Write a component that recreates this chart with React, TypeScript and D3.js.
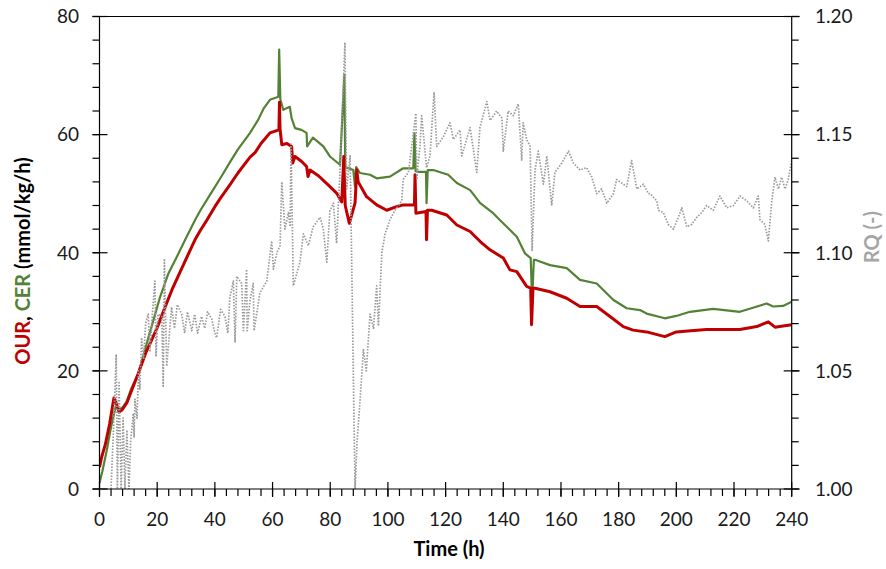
import React from "react";
import * as d3 from "d3";

const xTicks = [0, 20, 40, 60, 80, 100, 120, 140, 160, 180, 200, 220, 240];
const yLeftTicks = [0, 20, 40, 60, 80];
const yRightTicks = [1.0, 1.05, 1.1, 1.15, 1.2];

const ourT = [0, 0.8, 2, 3.5, 5.0, 5.5, 6.8, 8, 9.5, 11, 13.4, 16, 19.9, 22.5, 25.1, 28, 31.4, 33.1, 35, 37.2, 40, 42, 45.2, 48, 50, 52.2, 54, 56, 59.1, 62.2, 62.4, 62.6, 63.2, 65, 66.6, 67, 67.8, 70, 71.8, 72.3, 73, 76, 79.9, 82.2, 84, 84.7, 85.2, 86.6, 87.5, 88.6, 89.2, 89.7, 92.6, 96.1, 99.6, 103, 105.3, 109.2, 109.4, 109.7, 113.2, 113.4, 113.7, 115.2, 120.4, 123.9, 128.5, 132, 135.4, 140, 142.3, 144.7, 148.1, 149.5, 149.8, 150.3, 151, 156.2, 162, 166.6, 172.4, 177, 181.6, 185, 189.7, 196, 200, 205, 210.5, 216, 222, 227.9, 231.9, 234.2, 237, 240];
const ourV = [3.7, 5.5, 7.5, 11, 15.4, 15, 13.0, 13.5, 14.6, 16.5, 19.5, 23, 27.2, 30.5, 33.7, 36.8, 40.4, 42.2, 43.8, 45.5, 47.8, 49.3, 51.5, 53.5, 54.8, 56.2, 57, 58.5, 60.3, 60.8, 65.5, 61, 58.3, 58.5, 58, 55.2, 56.3, 55.5, 54.6, 52.9, 54, 53, 51.2, 50.1, 48.6, 56.3, 48, 45, 46.5, 48.4, 54, 52, 49.5, 48.1, 47.2, 47.8, 48.1, 48.1, 53.2, 46.7, 47, 42.2, 47.2, 47.2, 46.4, 44.7, 43.6, 41.9, 40.5, 39.1, 37.1, 36.8, 34.3, 34, 27.8, 34, 34, 33.4, 32.3, 30.9, 30.9, 29.2, 27.5, 26.9, 26.6, 25.8, 26.6, 26.8, 27, 27, 27, 27.5, 28.3, 27.4, 27.6, 27.8];

const cerT = [0, 1, 2.5, 4, 5.6, 6.5, 8, 9.4, 11, 13.5, 16, 18.7, 21, 23.9, 27, 30, 33.1, 35, 38.3, 42, 45.2, 48, 52.2, 55, 57, 59.1, 62, 62.3, 62.7, 63.7, 66, 66.6, 67.8, 70, 71.8, 72, 74, 77.6, 79.9, 83.4, 84.9, 85.2, 88, 88.6, 89, 90.3, 93.8, 96.1, 100.7, 105.3, 108.8, 109.2, 109.6, 110.5, 113.2, 113.4, 113.8, 115.7, 120.9, 123.9, 128.5, 132, 136.5, 138.9, 141.2, 144.7, 147.5, 149.5, 150, 150.6, 151, 156.2, 162, 166.6, 172.4, 178.2, 182.8, 187.4, 189.7, 196, 200, 204.7, 212.8, 222, 226, 231.3, 233.6, 237, 240];
const cerV = [1, 3, 6.5, 10.5, 13.9, 13.4, 13.8, 14.8, 17, 19.6, 24, 28.6, 32.5, 36.5, 39.5, 42.5, 45.5, 47.2, 49.8, 52.7, 55.3, 57.5, 60.3, 62.5, 64.5, 65.9, 66.4, 74.4, 66, 64.2, 64.7, 62.8, 61.1, 60.8, 60.3, 58, 59.5, 58, 56.3, 54.9, 70.1, 54.5, 54, 51.2, 54.5, 53.5, 53.2, 52.6, 52.9, 54.3, 54.3, 60.2, 53.8, 53.7, 53.7, 48.4, 54, 54, 53.2, 51.8, 50.6, 48.4, 46.7, 45.5, 44.4, 42.7, 39.9, 39.1, 32, 38.8, 38.8, 37.9, 37.4, 35.4, 34.8, 32, 30.6, 30.3, 29.7, 28.9, 29.3, 30, 30.5, 30, 30.6, 31.4, 30.9, 31, 31.7];

const rqT = [4.0, 5.0, 5.8, 6.2, 6.8, 7.5, 8.2, 8.8, 9.5, 10.2, 10.8, 11.7, 12.0, 12.3, 13.0, 13.5, 14.0, 14.6, 15.3, 16.0, 16.9, 17.5, 18.2, 19.2, 19.6, 20.3, 21.6, 22.1, 22.5, 23.3, 25.0, 26.0, 27.0, 28.5, 29.5, 30.5, 32.0, 33.0, 34.0, 35.4, 36.5, 37.5, 38.9, 40.0, 40.6, 42.0, 43.5, 44.5, 45.2, 46.4, 47.0, 47.6, 49.3, 49.9, 51.0, 51.2, 52.2, 53.3, 53.6, 55.6, 58.0, 59.7, 60.3, 61.5, 62.6, 63.2, 64.3, 65.5, 66.1, 66.4, 67.2, 69.5, 70.7, 72.4, 74.1, 76.5, 77.6, 78.8, 79.9, 81.1, 82.2, 83.4, 85.1, 85.7, 86.9, 88.6, 89.3, 90.2, 91.5, 92.5, 93.8, 95.0, 96.1, 96.7, 97.9, 99.0, 100.7, 102.5, 104.8, 105.3, 107.1, 109.7, 110.0, 111.1, 111.7, 113.4, 114.6, 116.0, 116.9, 119.2, 121.5, 122.7, 125.0, 125.6, 128.5, 130.8, 131.9, 134.3, 135.4, 137.7, 139.5, 140.0, 141.7, 143.5, 145.2, 146.4, 146.9, 148.1, 149.3, 150.0, 151.0, 152.1, 153.9, 155.1, 156.8, 157.9, 160.3, 162.6, 164.3, 166.6, 168.9, 170.7, 172.4, 174.1, 175.9, 178.2, 179.3, 182.8, 184.5, 186.3, 188.6, 190.3, 190.9, 193.2, 193.8, 195.5, 197.2, 199.0, 200.7, 201.9, 203.6, 205.3, 207.1, 208.8, 210.5, 212.8, 215.1, 217.5, 219.8, 222.1, 224.4, 226.7, 228.4, 229.0, 230.7, 231.9, 233.1, 234.2, 235.4, 236.5, 237.7, 238.8, 240.0];
const rqV = [1.000, 1.030, 1.057, 1.000, 1.045, 1.000, 1.030, 1.000, 1.025, 1.000, 1.020, 1.032, 1.022, 1.038, 1.030, 1.050, 1.042, 1.064, 1.055, 1.070, 1.074, 1.058, 1.072, 1.088, 1.056, 1.074, 1.073, 1.043, 1.097, 1.052, 1.077, 1.068, 1.078, 1.074, 1.066, 1.075, 1.067, 1.074, 1.066, 1.073, 1.068, 1.075, 1.072, 1.066, 1.064, 1.076, 1.073, 1.066, 1.081, 1.088, 1.062, 1.090, 1.087, 1.067, 1.093, 1.067, 1.080, 1.087, 1.067, 1.083, 1.088, 1.105, 1.093, 1.100, 1.103, 1.130, 1.110, 1.117, 1.111, 1.146, 1.086, 1.096, 1.108, 1.103, 1.111, 1.115, 1.110, 1.096, 1.118, 1.121, 1.104, 1.135, 1.189, 1.127, 1.141, 1.000, 1.020, 1.035, 1.059, 1.050, 1.074, 1.068, 1.086, 1.069, 1.100, 1.108, 1.114, 1.118, 1.122, 1.131, 1.134, 1.159, 1.131, 1.145, 1.158, 1.136, 1.141, 1.168, 1.145, 1.149, 1.155, 1.148, 1.152, 1.141, 1.153, 1.134, 1.153, 1.164, 1.156, 1.160, 1.157, 1.143, 1.160, 1.158, 1.163, 1.139, 1.155, 1.148, 1.145, 1.101, 1.135, 1.143, 1.129, 1.141, 1.120, 1.134, 1.138, 1.143, 1.138, 1.135, 1.136, 1.132, 1.125, 1.127, 1.121, 1.125, 1.131, 1.128, 1.139, 1.127, 1.129, 1.125, 1.125, 1.122, 1.118, 1.117, 1.112, 1.110, 1.115, 1.119, 1.111, 1.112, 1.115, 1.117, 1.120, 1.118, 1.124, 1.119, 1.120, 1.124, 1.122, 1.119, 1.124, 1.114, 1.112, 1.105, 1.122, 1.132, 1.127, 1.132, 1.127, 1.131, 1.139];

const W = 886;
const H = 569;
const L = 99.5;
const R = 791.7;
const T = 16.5;
const B = 489;
const FONT = "Lato, 'Open Sans', sans-serif";
const RED = "#C00000";
const GREEN = "#548235";
const GRAY = "#999999";

export default function App() {
  const x = d3.scaleLinear().domain([0, 240]).range([L, R]);
  const y = d3.scaleLinear().domain([0, 80]).range([B, T]);
  const y2 = d3.scaleLinear().domain([1.0, 1.2]).range([B, T]);

  const lineL = d3
    .line<[number, number]>()
    .x((d) => x(d[0]))
    .y((d) => y(d[1]));
  const lineR = d3
    .line<[number, number]>()
    .x((d) => x(d[0]))
    .y((d) => y2(d[1]));

  const our = ourT.map((t, i) => [t, ourV[i]] as [number, number]);
  const cer = cerT.map((t, i) => [t, cerV[i]] as [number, number]);
  const rq = rqT.map((t, i) => [t, rqV[i]] as [number, number]);

  const xMinor = d3.range(0, 241, 4);
  const yMinor = d3.range(0, 81, 4);
  const y2Minor = d3.range(0, 21, 1).map((k) => 1 + k * 0.01);

  return (
    <svg width={W} height={H} style={{ position: "absolute", left: 0, top: 0, background: "#fff" }} fontFamily={FONT}>
      <rect width={W} height={H} fill="#fff" />
      <defs>
        <clipPath id="plot">
          <rect x={L} y={T - 1} width={R - L} height={B - T + 1} />
        </clipPath>
      </defs>
      <g clipPath="url(#plot)" fill="none" strokeLinejoin="round">
        <path d={lineL(cer) || ""} stroke={GREEN} strokeWidth={2.2} />
        <path d={lineL(our) || ""} stroke={RED} strokeWidth={3} />
        <path d={lineR(rq) || ""} stroke={GRAY} strokeWidth={1.7} strokeDasharray="1.5 1.5" />
      </g>
      <g stroke="#000" strokeWidth={1.2}>
        <line x1={L} x2={L} y1={T} y2={B} />
        <line x1={R} x2={R} y1={T} y2={B} />
        <line x1={L} x2={R} y1={B} y2={B} />
        <line x1={L} x2={R} y1={T} y2={T} />
        {yMinor.map((v) => (
          <line key={"ym" + v} x1={L - 7} x2={L} y1={y(v)} y2={y(v)} />
        ))}
        {yLeftTicks.map((v) => (
          <line key={"yM" + v} x1={L - 7} x2={L + 8} y1={y(v)} y2={y(v)} />
        ))}
        {y2Minor.map((v, i) => (
          <line key={"y2m" + i} x1={R} x2={R + 7} y1={y2(v)} y2={y2(v)} />
        ))}
        {yRightTicks.map((v) => (
          <line key={"y2M" + v} x1={R - 8} x2={R + 8} y1={y2(v)} y2={y2(v)} />
        ))}
        {xMinor.map((v) => (
          <line key={"xm" + v} x1={x(v)} x2={x(v)} y1={B} y2={B + 7} />
        ))}
        {xTicks.map((v) => (
          <line key={"xM" + v} x1={x(v)} x2={x(v)} y1={B - 7} y2={B + 8} />
        ))}
      </g>
      <g fontSize={19} fill="#1a1a1a">
        {yLeftTicks.map((v) => (
          <text key={"yl" + v} x={79} y={y(v)} dy="0.36em" textAnchor="end">
            {v}
          </text>
        ))}
        {yRightTicks.map((v) => (
          <text key={"yr" + v} x={815} y={y2(v)} dy="0.36em" textAnchor="start">
            {v.toFixed(2)}
          </text>
        ))}
        {xTicks.map((v) => (
          <text key={"xl" + v} x={x(v)} y={526} textAnchor="middle">
            {v}
          </text>
        ))}
      </g>
      <text x={449} y={556} textAnchor="middle" fontSize={20} fontWeight="bold" fill="#000">
        Time (h)
      </text>
      <text
        transform={`translate(30, 261) rotate(-90)`}
        textAnchor="middle"
        fontSize={20}
        fontWeight="bold"
        fill="#000"
      >
        <tspan fill={RED}>OUR</tspan>
        <tspan>, </tspan>
        <tspan fill={GREEN}>CER</tspan>
        <tspan> (mmol/kg/h)</tspan>
      </text>
      <text
        transform={`translate(879, 237) rotate(-90)`}
        textAnchor="middle"
        fontSize={20}
        fontWeight="bold"
        fill="#A6A6A6"
      >
        RQ (-)
      </text>
    </svg>
  );
}
